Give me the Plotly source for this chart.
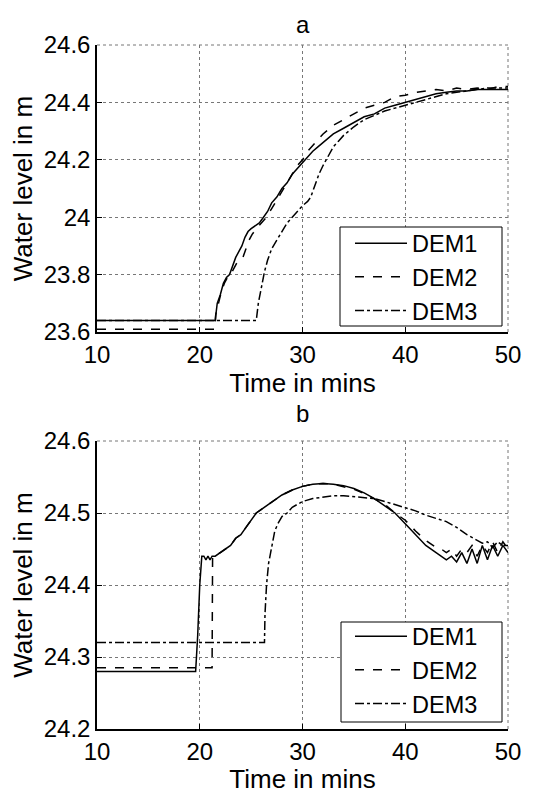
import plotly.graph_objects as go

# ---------------- Panel a ----------------
t1a = [10, 21.5, 21.7, 22.0, 22.3, 22.6, 22.9, 23.2, 23.5, 23.8, 24.1, 24.4, 24.7, 25.0, 25.4, 25.8,
       26.2, 26.6, 27.0, 27.5, 28.0, 28.5, 29.0, 29.5, 30.0, 30.5, 31.0, 31.5, 32.0, 33.0, 34.0, 35.0,
       36.0, 37.0, 38.0, 39.0, 40.0, 41.0, 42.0, 43.0, 44.0, 45.0, 46.0, 47.0, 48.0, 49.0, 50.0]
y1a = [23.64, 23.64, 23.70, 23.73, 23.77, 23.79, 23.80, 23.83, 23.86, 23.88, 23.90, 23.93, 23.95, 23.96,
       23.97, 23.98, 24.00, 24.02, 24.05, 24.07, 24.10, 24.12, 24.15, 24.17, 24.19, 24.21, 24.23, 24.245,
       24.26, 24.29, 24.31, 24.33, 24.35, 24.36, 24.38, 24.39, 24.40, 24.41, 24.42, 24.43, 24.435, 24.44,
       24.44, 24.445, 24.445, 24.445, 24.445]

t2a = [10, 21.5, 21.55, 21.8, 22.1, 22.4, 22.7, 23.0, 23.3, 23.6, 23.9, 24.2, 24.5, 24.8, 25.1, 25.5,
       26.0, 26.5, 27.0, 27.5, 28.0, 28.5, 29.0, 29.5, 30.0, 30.5, 31.0, 31.5, 32.0, 33.0, 34.0, 35.0,
       36.0, 37.0, 38.0, 39.0, 40.0, 41.0, 42.0, 43.0, 44.0, 45.0, 46.0, 47.0, 48.0, 49.0, 50.0]
y2a = [23.61, 23.61, 23.66, 23.70, 23.74, 23.77, 23.79, 23.80, 23.82, 23.84, 23.85, 23.86, 23.89, 23.92,
       23.94, 23.96, 23.98, 24.00, 24.03, 24.06, 24.09, 24.12, 24.15, 24.18, 24.20, 24.23, 24.25, 24.27,
       24.29, 24.32, 24.34, 24.36, 24.38, 24.39, 24.40, 24.42, 24.425, 24.435, 24.44, 24.445, 24.44,
       24.45, 24.445, 24.45, 24.445, 24.455, 24.455]

t3a = [10, 25.5, 25.7, 26.0, 26.3, 26.6, 27.0, 27.5, 28.0, 28.5, 29.0, 29.5, 30.0, 30.5, 30.8, 31.0,
       31.3, 31.6, 32.0, 32.5, 33.0, 33.5, 34.0, 35.0, 36.0, 37.0, 38.0, 39.0, 40.0, 41.0, 42.0, 43.0,
       44.0, 45.0, 46.0, 47.0, 48.0, 49.0, 50.0]
y3a = [23.64, 23.64, 23.70, 23.76, 23.81, 23.85, 23.89, 23.92, 23.95, 23.98, 24.00, 24.02, 24.04, 24.055,
       24.07, 24.09, 24.12, 24.15, 24.18, 24.21, 24.245, 24.265, 24.285, 24.315, 24.34, 24.355, 24.37,
       24.38, 24.39, 24.40, 24.41, 24.42, 24.43, 24.435, 24.44, 24.445, 24.45, 24.45, 24.45]

# ---------------- Panel b ----------------
t1b = [10, 19.6, 19.8, 20.0, 20.2, 20.4, 20.6, 20.8, 21.0, 21.2, 21.5, 22.0, 22.5, 23.0, 23.5, 24.0,
       24.5, 25.0, 25.5, 26.0, 27.0, 28.0, 29.0, 30.0, 31.0, 32.0, 33.0, 34.0, 35.0, 36.0, 37.0, 38.0,
       39.0, 40.0, 41.0, 42.0, 43.0, 43.5, 44.0, 44.5, 45.0, 45.5, 46.0, 46.5, 47.0, 47.5, 48.0, 48.5,
       49.0, 49.5, 50.0]
y1b = [24.28, 24.28, 24.33, 24.40, 24.44, 24.44, 24.435, 24.44, 24.435, 24.44, 24.44, 24.445, 24.45,
       24.455, 24.465, 24.47, 24.48, 24.49, 24.50, 24.505, 24.515, 24.525, 24.532, 24.537, 24.54, 24.541,
       24.54, 24.538, 24.534, 24.528, 24.52, 24.51, 24.50, 24.485, 24.47, 24.455, 24.445, 24.44, 24.435,
       24.44, 24.432, 24.445, 24.43, 24.45, 24.43, 24.455, 24.435, 24.455, 24.44, 24.455, 24.445]

t2b = [10, 21.2, 21.25, 21.5, 22.0, 22.5, 23.0, 23.5, 24.0, 24.5, 25.0, 25.5, 26.0, 27.0, 28.0, 29.0,
       30.0, 31.0, 32.0, 33.0, 34.0, 35.0, 36.0, 37.0, 38.0, 39.0, 40.0, 41.0, 42.0, 43.0, 43.5, 44.0,
       44.5, 45.0, 45.5, 46.0, 46.5, 47.0, 47.5, 48.0, 48.5, 49.0, 49.5, 50.0]
y2b = [24.285, 24.285, 24.44, 24.44, 24.445, 24.45, 24.455, 24.465, 24.47, 24.48, 24.49, 24.50, 24.505,
       24.515, 24.525, 24.532, 24.537, 24.54, 24.541, 24.54, 24.537, 24.533, 24.527, 24.52, 24.512, 24.50,
       24.49, 24.475, 24.462, 24.452, 24.45, 24.445, 24.45, 24.44, 24.45, 24.445, 24.455, 24.44, 24.455,
       24.445, 24.46, 24.445, 24.46, 24.45]

t3b = [10, 26.3, 26.35, 26.5, 26.7, 27.0, 27.3, 27.6, 28.0, 28.5, 29.0, 29.5, 30.0, 31.0, 32.0, 33.0,
       34.0, 35.0, 36.0, 37.0, 38.0, 39.0, 40.0, 41.0, 42.0, 43.0, 44.0, 45.0, 46.0, 47.0, 47.5, 48.0,
       48.5, 49.0, 49.5, 50.0]
y3b = [24.32, 24.32, 24.36, 24.40, 24.43, 24.455, 24.475, 24.485, 24.495, 24.50, 24.508, 24.512, 24.516,
       24.52, 24.522, 24.524, 24.524, 24.523, 24.522, 24.52, 24.516, 24.512, 24.508, 24.503, 24.497, 24.492,
       24.488, 24.48, 24.47, 24.462, 24.458, 24.46, 24.452, 24.46, 24.455, 24.455]

names = ["DEM1", "DEM2", "DEM3"]
dashes = ["solid", "dash", "dashdot"]

x_ticks = [10, 20, 30, 40, 50]
ya_ticks = [23.6, 23.8, 24.0, 24.2, 24.4, 24.6]
ya_text = ["23.6", "23.8", "24", "24.2", "24.4", "24.6"]
yb_ticks = [24.2, 24.3, 24.4, 24.5, 24.6]
yb_text = ["24.2", "24.3", "24.4", "24.5", "24.6"]

FONT = "Liberation Sans, Arial, sans-serif"
# the page body adds an 8px offset, so the figure is 8px smaller and all
# positions below are given in page pixels and shifted by OFF
OFF = 8
W, H = 548 - OFF, 794 - OFF
ML, MR, MT, MB = 97 - OFF, W - (508 - OFF), 45 - OFF, H - (729 - OFF)
PW, PH = W - ML - MR, H - MT - MB


def px(x):
    return (x - OFF - ML) / PW


def py(y):
    return (H - MB - (y - OFF)) / PH


fig = go.Figure()
panel_a = [(t1a, y1a), (t2a, y2a), (t3a, y3a)]
panel_b = [(t1b, y1b), (t2b, y2b), (t3b, y3b)]
for (tx, ty), nm, d in zip(panel_a, names, dashes):
    fig.add_trace(go.Scatter(x=tx, y=ty, mode="lines", name=nm, xaxis="x", yaxis="y",
                             line=dict(color="black", width=1.5, dash=d), legend="legend"))
for (tx, ty), nm, d in zip(panel_b, names, dashes):
    fig.add_trace(go.Scatter(x=tx, y=ty, mode="lines", name=nm, xaxis="x2", yaxis="y2",
                             line=dict(color="black", width=1.5, dash=d), legend="legend2"))

ydom_a = [py(332), 1]
ydom_b = [0, py(441)]

common_axis = dict(showline=True, linecolor="black", linewidth=1.5, mirror=False,
                   ticks="inside", ticklen=5, tickcolor="black", tickwidth=1,
                   showgrid=True, gridcolor="#777777", griddash="dot", gridwidth=1,
                   zeroline=False, automargin=False,
                   tickfont=dict(family=FONT, size=24, color="black"))
xt = dict(text="Time in mins", font=dict(family=FONT, size=26, color="black"), standoff=4)
yt = dict(text="Water level in m", font=dict(family=FONT, size=26, color="black"), standoff=4)

leg_common = dict(xanchor="left", yanchor="middle", bgcolor="rgba(0,0,0,0)", borderwidth=0,
                  font=dict(family=FONT, size=23.5, color="black"),
                  tracegroupgap=0, itemwidth=52)

fig.update_layout(
    width=W, height=H,
    margin=dict(l=ML, r=MR, t=MT, b=MB),
    paper_bgcolor="white", plot_bgcolor="white",
    font=dict(family=FONT, size=24, color="black"),
    xaxis=dict(domain=[0, 1], anchor="y", range=[10, 50], tickvals=x_ticks, title=xt, **common_axis),
    yaxis=dict(domain=ydom_a, anchor="x", range=[23.6, 24.6], tickvals=ya_ticks, ticktext=ya_text,
               title=yt, **common_axis),
    xaxis2=dict(domain=[0, 1], anchor="y2", range=[10, 50], tickvals=x_ticks, title=xt, **common_axis),
    yaxis2=dict(domain=ydom_b, anchor="x2", range=[24.2, 24.6], tickvals=yb_ticks, ticktext=yb_text,
                title=yt, **common_axis),
    legend=dict(x=px(350), y=py(277), **leg_common),
    legend2=dict(x=px(350), y=py(670), **leg_common),
    showlegend=True,
)

# legend frames (white box with black border, as in the original)
for (x0, x1, y0, y1) in [(340, 502, 227, 326), (341, 502, 622, 722)]:
    fig.add_shape(type="rect", xref="paper", yref="paper",
                  x0=px(x0), x1=px(x1), y0=py(y1), y1=py(y0),
                  fillcolor="white", line=dict(color="black", width=1), layer="above")

# panel titles
fig.add_annotation(text="a", x=0.5, y=py(OFF + 0.5), xref="paper", yref="paper",
                   showarrow=False, font=dict(family=FONT, size=24, color="black"),
                   xanchor="center", yanchor="top")
fig.add_annotation(text="b", x=0.5, y=py(413), xref="paper", yref="paper",
                   showarrow=False, font=dict(family=FONT, size=24, color="black"),
                   xanchor="center", yanchor="middle")

# dotted grid at the top and right edges (MATLAB grid with box off)
for xr, yr in [("x", "y"), ("x2", "y2")]:
    fig.add_shape(type="line", xref=f"{xr} domain", yref=f"{yr} domain", x0=0, x1=1, y0=1, y1=1,
                  line=dict(color="#777777", width=1, dash="dot"), layer="below")
    fig.add_shape(type="line", xref=f"{xr} domain", yref=f"{yr} domain", x0=1, x1=1, y0=0, y1=1,
                  line=dict(color="#777777", width=1, dash="dot"), layer="below")

fig.write_html("out.html")
